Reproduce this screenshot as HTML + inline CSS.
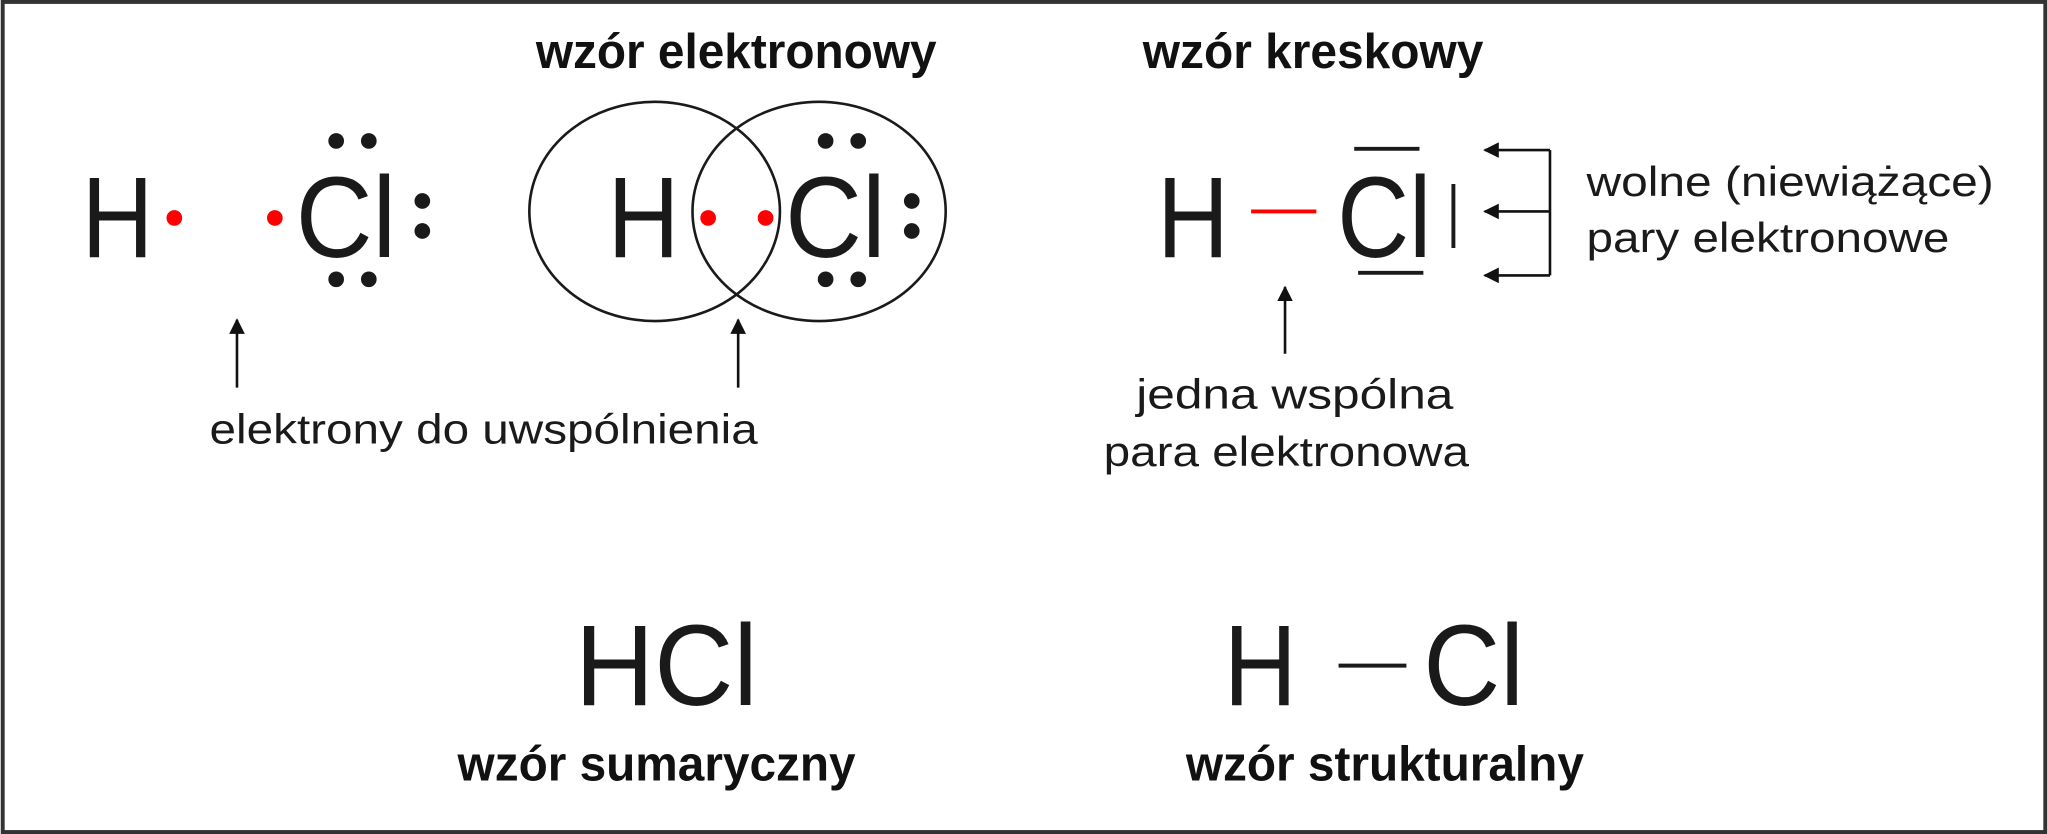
<!DOCTYPE html>
<html><head><meta charset="utf-8"><style>html,body{margin:0;padding:0;background:#fff}svg{display:block}</style></head>
<body>
<svg width="2048" height="834" viewBox="0 0 1568 639" xmlns="http://www.w3.org/2000/svg" font-family="Liberation Sans, Arial, sans-serif">
<defs><marker id="a" viewBox="0 0 10 10" refX="9" refY="5" markerWidth="6" markerHeight="6" orient="auto"><path d="M0,0 L10,5 L0,10 z" fill="#111"/></marker></defs>
<rect x="1.5" y="1.5" width="1565" height="636" fill="#fff" stroke="#333" stroke-width="3"/>
<g font-weight="bold" font-size="38" fill="#111">
<text x="410" y="52" textLength="307" lengthAdjust="spacingAndGlyphs">wzór elektronowy</text>
<text x="875" y="52" textLength="261" lengthAdjust="spacingAndGlyphs">wzór kreskowy</text>
<text x="350" y="598" textLength="305" lengthAdjust="spacingAndGlyphs">wzór sumaryczny</text>
<text x="908" y="598" textLength="305" lengthAdjust="spacingAndGlyphs">wzór strukturalny</text>
</g>
<g font-size="88" fill="#1a1a1a">
<text x="62" y="197" textLength="55" lengthAdjust="spacingAndGlyphs">H</text>
<text x="226" y="197" textLength="77" lengthAdjust="spacingAndGlyphs">Cl</text>
<text x="465" y="197" textLength="55" lengthAdjust="spacingAndGlyphs">H</text>
<text x="601" y="197" textLength="77" lengthAdjust="spacingAndGlyphs">Cl</text>
<text x="886" y="197" textLength="55" lengthAdjust="spacingAndGlyphs">H</text>
<text x="1024" y="197" textLength="72" lengthAdjust="spacingAndGlyphs">Cl</text>
<text x="440" y="540" textLength="140" lengthAdjust="spacingAndGlyphs">HCl</text>
<text x="937" y="540" textLength="56" lengthAdjust="spacingAndGlyphs">H</text>
<text x="1090" y="540" textLength="77" lengthAdjust="spacingAndGlyphs">Cl</text>
</g>
<g fill="#ff0000">
<circle cx="133" cy="167" r="6"/><circle cx="210" cy="167" r="6"/>
<circle cx="542" cy="167" r="6"/><circle cx="586" cy="167" r="6"/>
</g>
<g fill="#1a1a1a">
<circle cx="257" cy="108" r="6"/><circle cx="282" cy="108" r="6"/>
<circle cx="257" cy="214" r="6"/><circle cx="282" cy="214" r="6"/>
<circle cx="323" cy="154" r="6"/><circle cx="323" cy="177" r="6"/>
<circle cx="632" cy="108" r="6"/><circle cx="657" cy="108" r="6"/>
<circle cx="632" cy="214" r="6"/><circle cx="657" cy="214" r="6"/>
<circle cx="698" cy="154" r="6"/><circle cx="698" cy="177" r="6"/>
</g>
<ellipse cx="501" cy="162" rx="96" ry="84" fill="none" stroke="#1a1a1a" stroke-width="2"/>
<ellipse cx="627" cy="162" rx="97" ry="84" fill="none" stroke="#1a1a1a" stroke-width="2"/>
<g stroke="#111" stroke-width="2" fill="none">
<line x1="181" y1="297" x2="181" y2="245" marker-end="url(#a)"/>
<line x1="565" y1="297" x2="565" y2="245" marker-end="url(#a)"/>
<line x1="984" y1="271" x2="984" y2="220" marker-end="url(#a)"/>
<line x1="1187" y1="115" x2="1187" y2="211"/>
<line x1="1187" y1="115" x2="1137" y2="115" marker-end="url(#a)"/>
<line x1="1187" y1="162" x2="1137" y2="162" marker-end="url(#a)"/>
<line x1="1187" y1="211" x2="1137" y2="211" marker-end="url(#a)"/>
</g>
<line x1="958" y1="162" x2="1008" y2="162" stroke="#ff0000" stroke-width="3"/>
<g stroke="#1a1a1a" stroke-width="3">
<line x1="1037" y1="114" x2="1087" y2="114"/>
<line x1="1040" y1="209" x2="1090" y2="209"/>
<line x1="1113" y1="141" x2="1113" y2="190"/>
<line x1="1025" y1="510" x2="1077" y2="510"/>
</g>
<g font-size="32" fill="#1a1a1a">
<text x="160" y="340" textLength="420" lengthAdjust="spacingAndGlyphs">elektrony do uwspólnienia</text>
<text x="1215" y="150" textLength="312" lengthAdjust="spacingAndGlyphs">wolne (niewiążące)</text>
<text x="1215" y="193" textLength="278" lengthAdjust="spacingAndGlyphs">pary elektronowe</text>
<text x="870" y="313" textLength="243" lengthAdjust="spacingAndGlyphs">jedna wspólna</text>
<text x="845" y="357" textLength="280" lengthAdjust="spacingAndGlyphs">para elektronowa</text>
</g>
</svg>
</body></html>
